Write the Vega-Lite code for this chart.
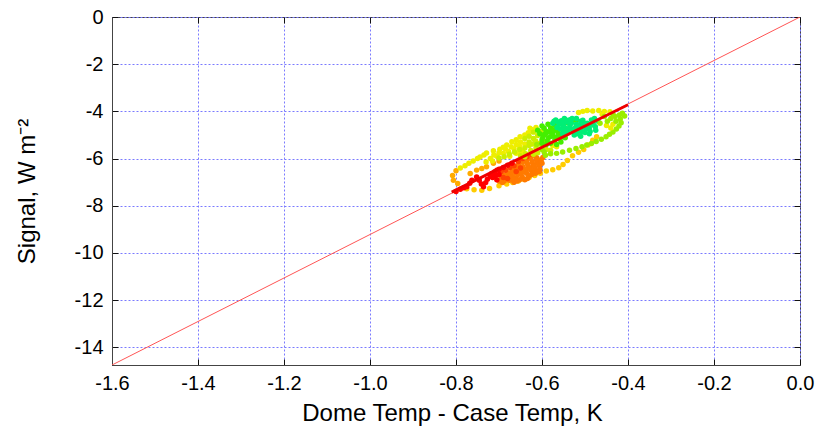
{
  "$schema": "https://vega.github.io/schema/vega-lite/v6.json",
  "width": 688,
  "height": 348,
  "autosize": {"type": "none"},
  "padding": {"left": 112, "top": 17, "right": 17, "bottom": 62},
  "background": "white",
  "config": {
    "view": {"stroke": "#444", "strokeWidth": 1},
    "locale": {"number": {"decimal": ".", "thousands": ",", "grouping": [3], "currency": ["$", ""], "minus": "-"}},
    "axis": {
      "labelFont": "Liberation Sans", "titleFont": "Liberation Sans",
      "labelFontSize": 20, "titleFontSize": 24, "labelColor": "#000", "titleColor": "#000",
      "titleFontWeight": "normal",
      "domainColor": "#444", "tickColor": "#111", "tickSize": -6, "tickWidth": 1,
      "gridColor": "#7a7aff", "gridDash": [2, 2], "gridWidth": 1, "gridOpacity": 1
    }
  },
  "datasets": {
    "pts": [
      {"x":-0.775,"y":-7.28,"t":4},{"x":-0.758,"y":-7.32,"t":4},{"x":-0.74,"y":-7.34,"t":4},{"x":-0.722,"y":-7.27,"t":4},{"x":-0.70,"y":-7.15,"t":4},{"x":-0.682,"y":-7.08,"t":4},{"x":-0.668,"y":-7.02,"t":4},{"x":-0.655,"y":-6.95,"t":4},{"x":-0.642,"y":-6.88,"t":4},{"x":-0.63,"y":-6.8,"t":4},{"x":-0.617,"y":-6.72,"t":4},{"x":-0.604,"y":-6.62,"t":4},{"x":-0.59,"y":-6.53,"t":4},{"x":-0.575,"y":-6.47,"t":4},{"x":-0.561,"y":-6.39,"t":4},{"x":-0.551,"y":-6.25,"t":4},{"x":-0.541,"y":-6.08,"t":4},{"x":-0.529,"y":-5.88,"t":4},{"x":-0.515,"y":-5.73,"t":4},{"x":-0.503,"y":-5.62,"t":4},{"x":-0.493,"y":-5.42,"t":4},{"x":-0.482,"y":-5.22,"t":4},{"x":-0.473,"y":-5.08,"t":4},
      {"x":-0.80,"y":-6.52,"t":3},{"x":-0.808,"y":-6.72,"t":3},{"x":-0.806,"y":-6.92,"t":3},{"x":-0.796,"y":-7.06,"t":3},{"x":-0.767,"y":-6.63,"t":3},{"x":-0.752,"y":-6.49,"t":3},{"x":-0.74,"y":-6.42,"t":3},{"x":-0.729,"y":-6.35,"t":3},{"x":-0.713,"y":-6.2,"t":3},{"x":-0.70,"y":-6.1,"t":3},
      {"x":-0.70,"y":-6.95,"t":2},{"x":-0.692,"y":-7.02,"t":2},{"x":-0.684,"y":-6.8,"t":2},{"x":-0.676,"y":-6.92,"t":2},{"x":-0.672,"y":-6.65,"t":2},{"x":-0.665,"y":-7.0,"t":2},{"x":-0.66,"y":-6.85,"t":2},{"x":-0.656,"y":-6.68,"t":2},{"x":-0.65,"y":-6.55,"t":2},{"x":-0.646,"y":-6.78,"t":2},{"x":-0.642,"y":-6.45,"t":2},{"x":-0.636,"y":-6.62,"t":2},{"x":-0.632,"y":-6.35,"t":2},{"x":-0.626,"y":-6.5,"t":2},{"x":-0.621,"y":-6.25,"t":2},{"x":-0.616,"y":-6.42,"t":2},{"x":-0.611,"y":-6.15,"t":2},{"x":-0.606,"y":-6.3,"t":2},{"x":-0.602,"y":-6.05,"t":2},{"x":-0.598,"y":-5.95,"t":2},{"x":-0.612,"y":-5.98,"t":2},{"x":-0.652,"y":-6.9,"t":2},{"x":-0.64,"y":-6.9,"t":2},{"x":-0.63,"y":-6.74,"t":2},{"x":-0.62,"y":-6.6,"t":2},{"x":-0.686,"y":-6.88,"t":2},{"x":-0.662,"y":-6.4,"t":2},{"x":-0.654,"y":-6.26,"t":2},{"x":-0.645,"y":-6.15,"t":2},{"x":-0.636,"y":-6.08,"t":2},{"x":-0.626,"y":-6.0,"t":2},{"x":-0.61,"y":-6.55,"t":2},{"x":-0.68,"y":-6.6,"t":2},{"x":-0.67,"y":-6.48,"t":2},{"x":-0.69,"y":-6.7,"t":2},{"x":-0.60,"y":-6.2,"t":2},{"x":-0.605,"y":-6.45,"t":2},{"x":-0.615,"y":-5.9,"t":2},
      {"x":-0.695,"y":-6.85,"t":2},{"x":-0.688,"y":-6.95,"t":2},{"x":-0.678,"y":-6.75,"t":2},{"x":-0.668,"y":-6.78,"t":2},{"x":-0.664,"y":-6.58,"t":2},{"x":-0.658,"y":-6.95,"t":2},{"x":-0.648,"y":-6.62,"t":2},{"x":-0.644,"y":-6.35,"t":2},{"x":-0.638,"y":-6.52,"t":2},{"x":-0.634,"y":-6.22,"t":2},{"x":-0.628,"y":-6.4,"t":2},{"x":-0.623,"y":-6.15,"t":2},{"x":-0.618,"y":-6.32,"t":2},{"x":-0.613,"y":-6.05,"t":2},{"x":-0.608,"y":-6.22,"t":2},{"x":-0.603,"y":-6.12,"t":2},{"x":-0.66,"y":-6.62,"t":2},{"x":-0.67,"y":-6.9,"t":2},{"x":-0.634,"y":-6.85,"t":2},{"x":-0.624,"y":-6.68,"t":2},{"x":-0.615,"y":-6.62,"t":2},{"x":-0.606,"y":-6.55,"t":2},
      {"x":-0.695,"y":-6.55,"t":1},{"x":-0.685,"y":-6.5,"t":1},{"x":-0.675,"y":-6.38,"t":1},{"x":-0.665,"y":-6.3,"t":1},{"x":-0.655,"y":-6.12,"t":1},{"x":-0.645,"y":-6.0,"t":1},{"x":-0.635,"y":-5.92,"t":1},{"x":-0.625,"y":-5.82,"t":1},{"x":-0.69,"y":-6.8,"t":1},{"x":-0.68,"y":-6.85,"t":1},{"x":-0.66,"y":-6.55,"t":1},{"x":-0.65,"y":-6.4,"t":1},
      {"x":-0.80,"y":-7.40,"t":0},{"x":-0.79,"y":-7.30,"t":0},{"x":-0.782,"y":-7.24,"t":0},{"x":-0.775,"y":-7.2,"t":0},{"x":-0.768,"y":-7.05,"t":0},{"x":-0.763,"y":-6.92,"t":0},{"x":-0.752,"y":-6.78,"t":0},{"x":-0.746,"y":-6.92,"t":0},{"x":-0.741,"y":-7.08,"t":0},{"x":-0.736,"y":-7.2,"t":0},{"x":-0.731,"y":-7.02,"t":0},{"x":-0.727,"y":-6.88,"t":0},{"x":-0.72,"y":-6.75,"t":0},{"x":-0.717,"y":-6.63,"t":0},{"x":-0.71,"y":-6.56,"t":0},{"x":-0.705,"y":-6.49,"t":0},{"x":-0.70,"y":-6.45,"t":0},{"x":-0.69,"y":-6.38,"t":0},{"x":-0.68,"y":-6.28,"t":0},{"x":-0.67,"y":-6.2,"t":0},{"x":-0.715,"y":-6.8,"t":0},{"x":-0.708,"y":-6.72,"t":0},{"x":-0.70,"y":-6.68,"t":0},{"x":-0.705,"y":-6.9,"t":0},
      {"x":-0.79,"y":-6.40,"t":5},{"x":-0.779,"y":-6.30,"t":5},{"x":-0.770,"y":-6.20,"t":5},{"x":-0.760,"y":-6.10,"t":5},{"x":-0.75,"y":-6.0,"t":5},{"x":-0.744,"y":-5.93,"t":5},{"x":-0.735,"y":-5.85,"t":5},{"x":-0.729,"y":-5.76,"t":5},{"x":-0.713,"y":-5.67,"t":5},{"x":-0.698,"y":-5.61,"t":5},{"x":-0.69,"y":-5.52,"t":5},{"x":-0.682,"y":-5.43,"t":5},{"x":-0.670,"y":-5.29,"t":5},{"x":-0.66,"y":-5.2,"t":5},{"x":-0.651,"y":-5.08,"t":5},{"x":-0.64,"y":-5.0,"t":5},{"x":-0.632,"y":-4.91,"t":5},{"x":-0.622,"y":-4.78,"t":5},{"x":-0.614,"y":-4.68,"t":5},
      {"x":-0.72,"y":-6.0,"t":5},{"x":-0.705,"y":-5.9,"t":5},{"x":-0.69,"y":-5.78,"t":5},{"x":-0.678,"y":-5.7,"t":5},{"x":-0.665,"y":-5.58,"t":5},{"x":-0.652,"y":-5.48,"t":5},{"x":-0.64,"y":-5.38,"t":5},{"x":-0.675,"y":-5.9,"t":5},{"x":-0.66,"y":-5.78,"t":5},{"x":-0.645,"y":-5.68,"t":5},{"x":-0.628,"y":-4.72,"t":5},{"x":-0.575,"y":-5.45,"t":5},{"x":-0.566,"y":-5.5,"t":5},
      {"x":-0.73,"y":-6.15,"t":5},{"x":-0.715,"y":-6.1,"t":5},{"x":-0.65,"y":-5.72,"t":5},{"x":-0.65,"y":-5.3,"t":5},{"x":-0.66,"y":-5.4,"t":5},{"x":-0.672,"y":-5.5,"t":5},{"x":-0.685,"y":-5.6,"t":5},{"x":-0.70,"y":-5.75,"t":5},{"x":-0.712,"y":-5.85,"t":5},
      {"x":-0.70,"y":-5.98,"t":6},{"x":-0.688,"y":-5.92,"t":6},{"x":-0.676,"y":-5.82,"t":6},{"x":-0.664,"y":-5.72,"t":6},{"x":-0.652,"y":-5.62,"t":6},{"x":-0.64,"y":-5.55,"t":6},{"x":-0.63,"y":-5.45,"t":6},{"x":-0.622,"y":-5.38,"t":6},{"x":-0.61,"y":-5.75,"t":6},{"x":-0.62,"y":-5.82,"t":6},{"x":-0.64,"y":-5.92,"t":6},{"x":-0.64,"y":-5.15,"t":6},{"x":-0.63,"y":-5.05,"t":6},
      {"x":-0.65,"y":-5.88,"t":6},{"x":-0.638,"y":-5.8,"t":6},{"x":-0.626,"y":-5.66,"t":6},{"x":-0.614,"y":-5.55,"t":6},{"x":-0.63,"y":-5.3,"t":6},{"x":-0.62,"y":-5.15,"t":6},{"x":-0.61,"y":-5.02,"t":6},{"x":-0.605,"y":-5.35,"t":6},{"x":-0.595,"y":-5.28,"t":6},{"x":-0.60,"y":-5.5,"t":6},{"x":-0.59,"y":-5.62,"t":6},{"x":-0.62,"y":-4.88,"t":6},{"x":-0.615,"y":-5.25,"t":6},{"x":-0.602,"y":-4.85,"t":6},{"x":-0.58,"y":-5.65,"t":6},
      {"x":-0.612,"y":-5.4,"t":7},{"x":-0.60,"y":-5.62,"t":7},{"x":-0.595,"y":-5.72,"t":7},
      {"x":-0.592,"y":-5.86,"t":7},{"x":-0.58,"y":-5.8,"t":7},{"x":-0.566,"y":-5.78,"t":7},{"x":-0.552,"y":-5.72,"t":7},{"x":-0.536,"y":-5.65,"t":7},{"x":-0.521,"y":-5.57,"t":7},{"x":-0.507,"y":-5.5,"t":7},{"x":-0.496,"y":-5.43,"t":7},{"x":-0.485,"y":-5.36,"t":7},{"x":-0.474,"y":-5.28,"t":7},{"x":-0.462,"y":-5.18,"t":7},{"x":-0.451,"y":-5.08,"t":7},{"x":-0.443,"y":-4.97,"t":7},{"x":-0.435,"y":-4.87,"t":7},{"x":-0.427,"y":-4.75,"t":7},{"x":-0.421,"y":-4.62,"t":7},{"x":-0.416,"y":-4.48,"t":7},
      {"x":-0.60,"y":-5.2,"t":8},{"x":-0.596,"y":-5.0,"t":8},{"x":-0.59,"y":-4.85,"t":8},{"x":-0.585,"y":-5.12,"t":8},{"x":-0.58,"y":-4.7,"t":8},{"x":-0.575,"y":-4.95,"t":8},{"x":-0.57,"y":-5.2,"t":8},{"x":-0.57,"y":-4.6,"t":8},{"x":-0.565,"y":-4.82,"t":8},{"x":-0.56,"y":-5.02,"t":8},{"x":-0.556,"y":-5.3,"t":8},{"x":-0.55,"y":-4.62,"t":8},{"x":-0.546,"y":-5.12,"t":8},{"x":-0.58,"y":-5.35,"t":8},{"x":-0.59,"y":-5.4,"t":8},{"x":-0.566,"y":-5.4,"t":8},{"x":-0.55,"y":-4.85,"t":8},{"x":-0.54,"y":-4.48,"t":8},{"x":-0.53,"y":-4.42,"t":8},{"x":-0.52,"y":-4.38,"t":8},{"x":-0.60,"y":-4.62,"t":8},{"x":-0.61,"y":-4.8,"t":8},{"x":-0.586,"y":-4.55,"t":8},{"x":-0.595,"y":-4.72,"t":8},
      {"x":-0.598,"y":-5.1,"t":8},{"x":-0.592,"y":-4.95,"t":8},{"x":-0.588,"y":-5.25,"t":8},{"x":-0.583,"y":-4.88,"t":8},{"x":-0.578,"y":-5.05,"t":8},{"x":-0.574,"y":-4.8,"t":8},{"x":-0.568,"y":-5.1,"t":8},{"x":-0.562,"y":-4.92,"t":8},{"x":-0.558,"y":-5.15,"t":8},{"x":-0.553,"y":-5.05,"t":8},{"x":-0.60,"y":-5.35,"t":8},{"x":-0.605,"y":-4.95,"t":8},
      {"x":-0.575,"y":-4.5,"t":9},{"x":-0.568,"y":-4.36,"t":9},{"x":-0.56,"y":-4.55,"t":9},{"x":-0.555,"y":-4.4,"t":9},{"x":-0.548,"y":-4.3,"t":9},{"x":-0.545,"y":-4.72,"t":9},{"x":-0.54,"y":-4.92,"t":9},{"x":-0.535,"y":-4.6,"t":9},{"x":-0.53,"y":-4.76,"t":9},{"x":-0.525,"y":-5.0,"t":9},{"x":-0.52,"y":-4.55,"t":9},{"x":-0.515,"y":-4.8,"t":9},{"x":-0.51,"y":-4.42,"t":9},{"x":-0.505,"y":-4.65,"t":9},{"x":-0.50,"y":-4.9,"t":9},{"x":-0.495,"y":-4.5,"t":9},{"x":-0.49,"y":-4.7,"t":9},{"x":-0.485,"y":-4.36,"t":9},{"x":-0.48,"y":-4.58,"t":9},{"x":-0.475,"y":-4.8,"t":9},{"x":-0.47,"y":-4.42,"t":9},{"x":-0.565,"y":-4.68,"t":9},{"x":-0.552,"y":-4.95,"t":9},{"x":-0.53,"y":-4.3,"t":9},{"x":-0.51,"y":-5.05,"t":9},{"x":-0.49,"y":-4.95,"t":9},{"x":-0.478,"y":-4.3,"t":9},
      {"x":-0.572,"y":-4.42,"t":9},{"x":-0.562,"y":-4.45,"t":9},{"x":-0.552,"y":-4.5,"t":9},{"x":-0.55,"y":-4.62,"t":9},{"x":-0.542,"y":-4.45,"t":9},{"x":-0.538,"y":-4.75,"t":9},{"x":-0.532,"y":-4.5,"t":9},{"x":-0.527,"y":-4.85,"t":9},{"x":-0.522,"y":-4.68,"t":9},{"x":-0.518,"y":-4.95,"t":9},{"x":-0.512,"y":-4.6,"t":9},{"x":-0.508,"y":-4.85,"t":9},{"x":-0.502,"y":-4.52,"t":9},{"x":-0.498,"y":-4.75,"t":9},{"x":-0.492,"y":-4.6,"t":9},{"x":-0.488,"y":-4.85,"t":9},{"x":-0.482,"y":-4.45,"t":9},{"x":-0.476,"y":-4.65,"t":9},{"x":-0.545,"y":-4.35,"t":9},{"x":-0.535,"y":-4.35,"t":9},{"x":-0.52,"y":-4.3,"t":9},{"x":-0.505,"y":-4.38,"t":9},{"x":-0.557,"y":-4.75,"t":9},{"x":-0.547,"y":-4.85,"t":9},
      {"x":-0.515,"y":-4.05,"t":5},{"x":-0.505,"y":-4.0,"t":5},{"x":-0.495,"y":-3.96,"t":5},{"x":-0.482,"y":-3.98,"t":5},{"x":-0.468,"y":-3.96,"t":5},{"x":-0.455,"y":-4.0,"t":5},{"x":-0.442,"y":-4.02,"t":5},{"x":-0.46,"y":-4.12,"t":5},{"x":-0.45,"y":-4.6,"t":5},{"x":-0.44,"y":-4.7,"t":5},{"x":-0.435,"y":-4.55,"t":5},
      {"x":-0.44,"y":-4.3,"t":7},{"x":-0.43,"y":-4.22,"t":7},{"x":-0.42,"y":-4.15,"t":7},{"x":-0.413,"y":-4.08,"t":7},{"x":-0.408,"y":-4.2,"t":7},{"x":-0.418,"y":-4.32,"t":7},{"x":-0.428,"y":-4.42,"t":7},{"x":-0.448,"y":-4.42,"t":7},{"x":-0.455,"y":-4.22,"t":7},{"x":-0.465,"y":-4.5,"t":7},{"x":-0.435,"y":-4.12,"t":7}
    ],
    "one2one": [{"x": -1.6, "y": -14.75}, {"x": 0, "y": 0}],
    "fit": [{"x": -0.81, "y": -7.42}, {"x": -0.40, "y": -3.72}]
  },
  "layer": [
    {
      "data": {"name": "one2one"},
      "mark": {"type": "line", "color": "#ff5555", "strokeWidth": 1, "clip": true},
      "encoding": {
        "x": {"field": "x", "type": "quantitative",
              "scale": {"domain": [-1.6, 0], "nice": false, "zero": false},
              "axis": {"values": [-1.6, -1.4, -1.2, -1.0, -0.8, -0.6, -0.4, -0.2, 0], "format": ".1f",
                       "title": "Dome Temp - Case Temp, K", "labelPadding": 14, "labelFlush": false,
                       "titleX": 340, "titleY": 55, "titleBaseline": "alphabetic", "titleAlign": "center", "titleAnchor": null}},
        "y": {"field": "y", "type": "quantitative",
              "scale": {"domain": [-14.75, 0], "nice": false, "zero": false},
              "axis": {"values": [0, -2, -4, -6, -8, -10, -12, -14], "format": "d",
                       "title": "Signal, W m⁻²", "labelPadding": 15, "labelFlush": false,
                       "titleAngle": -90, "titleX": -85, "titleY": 174, "titleBaseline": "middle", "titleAlign": "center", "titleAnchor": null}}
      }
    },
    {
      "data": {"name": "pts"},
      "mark": {"type": "circle", "size": 30, "opacity": 1},
      "encoding": {
        "x": {"field": "x", "type": "quantitative", "axis": null},
        "y": {"field": "y", "type": "quantitative", "axis": null},
        "color": {"field": "t", "type": "quantitative", "legend": null,
                  "scale": {"domain": [0, 1, 2, 3, 4, 5, 6, 7, 8, 9],
                            "range": ["#ff0000", "#ff4400", "#ff7a00", "#ffaa00", "#ffcc00", "#eeee00", "#ccee00", "#99ee00", "#44ee00", "#00ee77"]}}
      }
    },
    {
      "data": {"name": "fit"},
      "mark": {"type": "line", "color": "#ee0000", "strokeWidth": 3},
      "encoding": {
        "x": {"field": "x", "type": "quantitative",
              "axis": {"orient": "top", "labels": false, "grid": false, "domain": false, "title": null,
                       "values": [-1.6, -1.4, -1.2, -1.0, -0.8, -0.6, -0.4, -0.2, 0]}},
        "y": {"field": "y", "type": "quantitative",
              "axis": {"orient": "right", "labels": false, "grid": false, "domain": false, "title": null,
                       "values": [0, -2, -4, -6, -8, -10, -12, -14]}}
      }
    }
  ],
  "resolve": {"axis": {"x": "independent", "y": "independent"}}
}
